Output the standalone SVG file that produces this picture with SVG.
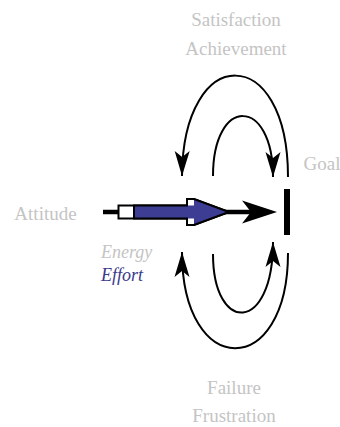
<svg xmlns="http://www.w3.org/2000/svg" width="340" height="427" viewBox="0 0 340 427">
<style>
.lbl{font-family:"Liberation Serif","Times New Roman","DejaVu Serif",serif;font-size:19px;fill:#c4c4c4;text-anchor:middle}
.it{font-family:"Liberation Serif","Times New Roman","DejaVu Serif",serif;font-size:18px;font-style:italic}
.arc{fill:none;stroke:#000;stroke-width:2}
</style>
<defs>
<marker id="ah" markerUnits="userSpaceOnUse" viewBox="-27 -9 29 18" markerWidth="29" markerHeight="18" refX="0" refY="0" orient="auto">
<path d="M0,0 L-25,-7.5 L-19,0 L-25,7.5 Z" fill="#000"/>
</marker>
</defs>
<g id="labels">
<text class="lbl" x="236" y="26">Satisfaction</text>
<text class="lbl" x="236" y="54.5">Achievement</text>
<text class="lbl" x="234" y="394">Failure</text>
<text class="lbl" x="234" y="422">Frustration</text>
</g>
<g id="attitude"><text class="lbl" x="45.5" y="220">Attitude</text></g>
<g id="goal">
<text class="lbl" x="322" y="170">Goal</text>
<rect x="284" y="189" width="6" height="46" fill="#000"/>
</g>
<g id="effort">
<text class="it" x="101" y="258" fill="#c4c4c4">Energy</text>
<text class="it" x="101" y="281" fill="#3a3a8c">Effort</text>
</g>
<g id="connectors">
<path class="arc" d="M288 177 C288 42 183 42 182 176" marker-end="url(#ah)"/>
<path class="arc" d="M213 176 C213 96 273 96 273 177" marker-end="url(#ah)"/>
<path class="arc" d="M288 253 C288 380 182 380 182 252" marker-end="url(#ah)"/>
<path class="arc" d="M213 254 C213 334 273 334 273 242" marker-end="url(#ah)"/>
</g>
<g id="main-arrow">
<line x1="103" y1="212" x2="262" y2="212" stroke="#000" stroke-width="4.5"/>
<polygon points="118.5,205.5 187,205.5 187,199 194,199 229,212 194,225 187,225 187,218.5 118.5,218.5" fill="#fff" stroke="#000" stroke-width="2"/>
<polygon points="134,205.5 194,205.5 194,199 229,212 194,225 194,218.5 134,218.5" fill="#3d3d94"/>
<polygon points="134,205.5 187,205.5 187,199 194,199 229,212 194,225 187,225 187,218.5 134,218.5" fill="none" stroke="#000" stroke-width="2"/>
<line x1="134" y1="205.5" x2="134" y2="218.5" stroke="#000" stroke-width="2"/>
<polygon points="277,212 242,200.5 251,212 242,223.5" fill="#000"/>
</g>
</svg>
